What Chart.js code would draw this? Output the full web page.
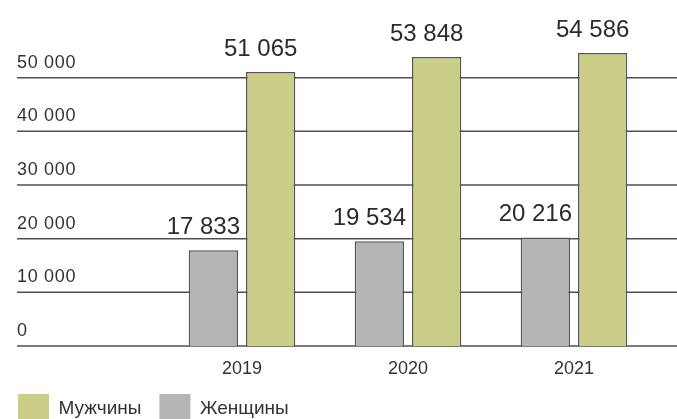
<!DOCTYPE html>
<html>
<head>
<meta charset="utf-8">
<script src="https://cdn.jsdelivr.net/npm/chart.js@4/dist/chart.umd.min.js"></script>
<style>
  html, body { margin: 0; padding: 0; background: #fff; }
  #wrap { width: 677px; height: 419px; }
</style>
</head>
<body>
<div id="wrap"><canvas id="genderChart" width="677" height="419"></canvas></div>
<script>
const years = ["2019", "2020", "2021"];
const women = [17833, 19534, 20216];
const men = [51065, 53848, 54586];
const seriesNames = ["Женщины", "Мужчины"];

const FONT = '"Liberation Sans", Arial, sans-serif';

// "51065" -> "51 065"
function fmt(v) {
  return String(v).replace(/\B(?=(\d{3})+(?!\d))/g, " ");
}

// full-width grid lines + y labels sitting above them, value labels over bars
const gridAndLabels = {
  id: "gridAndLabels",
  beforeDatasetsDraw(chart) {
    const { ctx, scales: { y } } = chart;
    ctx.save();
    ctx.strokeStyle = "#505050";
    ctx.lineWidth = 1.5;
    ctx.font = "18px " + FONT;
    ctx.letterSpacing = "0.7px";
    ctx.fillStyle = "#333";
    ctx.textAlign = "left";
    ctx.textBaseline = "middle";
    y.ticks.forEach(t => {
      const py = y.getPixelForValue(t.value);
      ctx.beginPath();
      ctx.moveTo(17, py);
      ctx.lineTo(chart.width, py);
      ctx.stroke();
      ctx.fillText(fmt(t.value), 17, py - 15);
    });
    ctx.restore();
  },
  afterDatasetsDraw(chart) {
    const ctx = chart.ctx;
    ctx.save();
    ctx.font = "24px " + FONT;
    ctx.textAlign = "center";
    ctx.textBaseline = "middle";
    ctx.lineJoin = "round";
    chart.data.datasets.forEach((ds, i) => {
      chart.getDatasetMeta(i).data.forEach((bar, j) => {
        const tx = bar.x - 10;
        const ty = bar.y - 23;
        ctx.strokeStyle = "#fff";
        ctx.lineWidth = 5;
        ctx.strokeText(fmt(ds.data[j]), tx, ty);
        ctx.fillStyle = "#2b2b2b";
        ctx.fillText(fmt(ds.data[j]), tx, ty);
      });
    });
    ctx.restore();
  }
};

const chart = new Chart(document.getElementById("genderChart"), {
  type: "bar",
  data: {
    labels: years,
    datasets: [
      {
        label: seriesNames[0],
        data: women,
        backgroundColor: "#b4b5b7",
        borderColor: "#555",
        borderWidth: 1.5
      },
      {
        label: seriesNames[1],
        data: men,
        backgroundColor: "#cbce89",
        borderColor: "#555",
        borderWidth: 1.5
      }
    ]
  },
  options: {
    responsive: false,
    animation: false,
    categoryPercentage: 0.69,
    barPercentage: 0.86,
    layout: { padding: { top: 24, right: 20, left: 0, bottom: -15 } },
    scales: {
      x: {
        grid: { display: false, drawTicks: false },
        border: { display: false },
        ticks: { color: "#333", font: { family: FONT, size: 18 }, padding: 12 },
        afterFit(scale) { scale.height = 30; }
      },
      y: {
        min: 0,
        max: 60000,
        grid: { display: false, drawTicks: false },
        border: { display: false },
        ticks: { display: false, stepSize: 10000 },
        // top of the range only gives head room for the tallest bars
        afterBuildTicks(scale) {
          scale.ticks = scale.ticks.filter(t => t.value < scale.max);
        },
        afterFit(scale) { scale.width = 159; }
      }
    },
    plugins: {
      tooltip: { enabled: false },
      legend: {
        position: "bottom",
        align: "start",
        reverse: true,
        labels: {
          boxWidth: 31,
          boxHeight: 30,
          padding: 18,
          color: "#333",
          font: { family: FONT, size: 19 },
          generateLabels(c) {
            return Chart.defaults.plugins.legend.labels.generateLabels(c).map(it => {
              it.lineWidth = 0;
              it.strokeStyle = "rgba(0,0,0,0)";
              return it;
            });
          }
        }
      }
    }
  },
  plugins: [gridAndLabels]
});
</script>
</body>
</html>
